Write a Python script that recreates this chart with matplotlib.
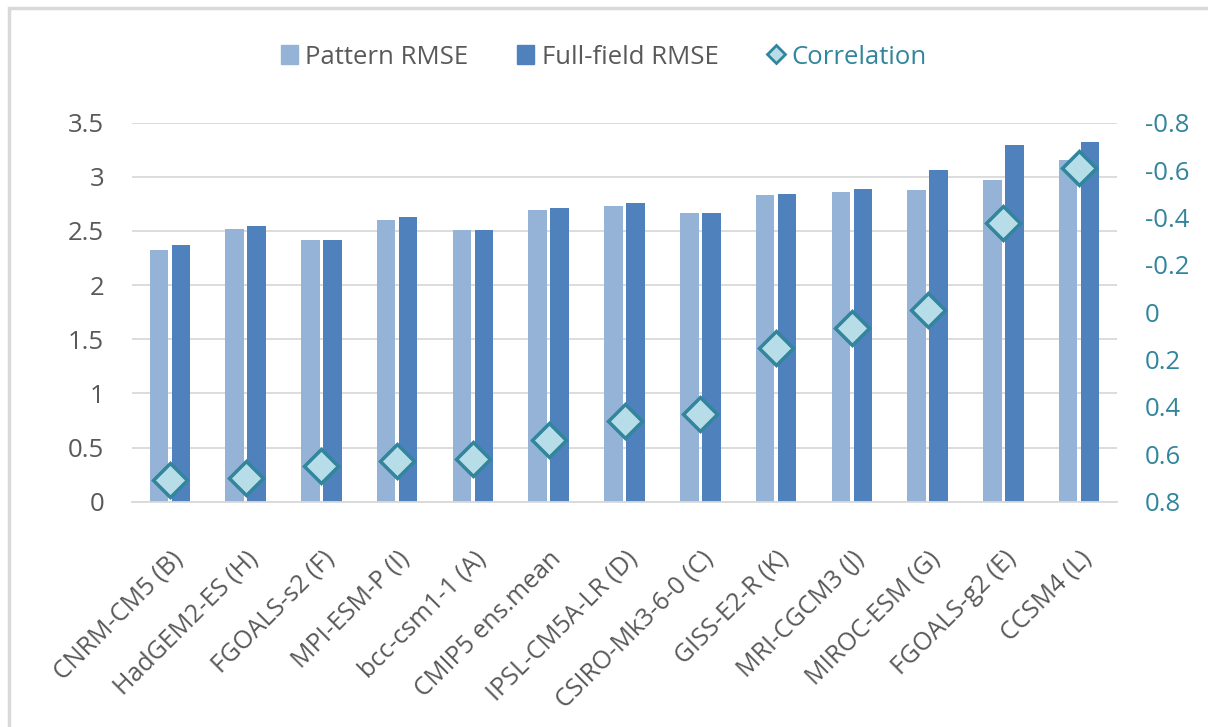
import numpy as np
import matplotlib.pyplot as plt
from matplotlib.lines import Line2D
from matplotlib.patches import Patch

models = ["CNRM-CM5 (B)", "HadGEM2-ES (H)", "FGOALS-s2 (F)", "MPI-ESM-P (I)",
          "bcc-csm1-1 (A)", "CMIP5 ens.mean", "IPSL-CM5A-LR (D)", "CSIRO-Mk3-6-0 (C)",
          "GISS-E2-R (K)", "MRI-CGCM3 (J)", "MIROC-ESM (G)", "FGOALS-g2 (E)", "CCSM4 (L)"]
pattern_rmse = [2.32, 2.52, 2.42, 2.60, 2.51, 2.69, 2.73, 2.67, 2.83, 2.86, 2.88, 2.97, 3.16]
full_rmse = [2.37, 2.55, 2.42, 2.63, 2.51, 2.71, 2.76, 2.67, 2.84, 2.89, 3.06, 3.29, 3.32]
correlation = [0.71, 0.70, 0.65, 0.63, 0.62, 0.54, 0.46, 0.43, 0.15, 0.065, -0.01, -0.375, -0.61]

c_pat = "#95b3d7"
c_full = "#4f81bd"
c_face = "#b7dee8"
c_edge = "#31859c"
c_text = "#595959"

plt.rcParams['font.family'] = ['Open Sans', 'DejaVu Sans']

fig = plt.figure(figsize=(12.08, 7.27), dpi=100)
ax1 = fig.add_axes([132/1208, 1 - 501.7/727, (1117-132)/1208, (501.7-122.7)/727])
ax2 = ax1.twinx()

x = np.arange(len(models))
w = 0.245
ax1.bar(x - 0.145, pattern_rmse, w, color=c_pat, zorder=2)
ax1.bar(x + 0.145, full_rmse, w, color=c_full, zorder=2)
ax2.plot(x, correlation, linestyle='none', marker='D', markersize=17,
         markerfacecolor=c_face, markeredgecolor=c_edge, markeredgewidth=2.5, zorder=3)

ax1.set_xlim(-0.5, len(models) - 0.5)
ax1.set_ylim(0, 3.5)
ax1.set_yticks(np.arange(0, 3.51, 0.5))
ax1.set_yticklabels(["0", "0.5", "1", "1.5", "2", "2.5", "3", "3.5"])
ax1.yaxis.grid(True, color="#d9d9d9", linewidth=1.3, zorder=0)
ax1.set_axisbelow(True)
ax1.set_xticks(x)
ax1.set_xticklabels(models, rotation=45, ha='right', rotation_mode='anchor')
ax1.tick_params(axis='y', length=0, pad=20, labelsize=18.5, labelcolor=c_text)
ax1.tick_params(axis='x', length=0, pad=32, labelsize=18, labelcolor=c_text)

ax2.set_ylim(0.8, -0.8)
ax2.set_yticks(np.arange(-0.8, 0.81, 0.2))
ax2.set_yticklabels(["-0.8", "-0.6", "-0.4", "-0.2", "0", "0.2", "0.4", "0.6", "0.8"])
ax2.tick_params(axis='y', length=0, pad=20, labelsize=18.5, labelcolor=c_edge)

for a in (ax1, ax2):
    for s in a.spines.values():
        s.set_visible(False)
ax1.spines['bottom'].set_visible(True)
ax1.spines['bottom'].set_color("#d9d9d9")
ax1.spines['bottom'].set_linewidth(1.3)

handles = [Patch(color=c_pat, label="Pattern RMSE"),
           Patch(color=c_full, label="Full-field RMSE"),
           Line2D([], [], linestyle='none', marker='D', markersize=9,
                  markerfacecolor=c_face, markeredgecolor=c_edge, markeredgewidth=2,
                  label="Correlation")]
leg = fig.legend(handles=handles, loc='center', bbox_to_anchor=(0.5, 1 - 57/727), ncol=3,
                 frameon=False, fontsize=18.5, handlelength=0.65, handleheight=0.8,
                 handletextpad=0.3, columnspacing=1.9)
for t in leg.get_texts():
    t.set_color(c_text)
leg.get_texts()[2].set_color(c_edge)

# chart border (top and left visible)
fig.add_artist(plt.Rectangle((8.5/1208, -0.05), 1.2, 1 - 8/727 + 0.05,
                             transform=fig.transFigure, fill=False,
                             edgecolor="#d9d9d9", linewidth=2.5))

plt.savefig("out.png", dpi=100)
plt.close()
